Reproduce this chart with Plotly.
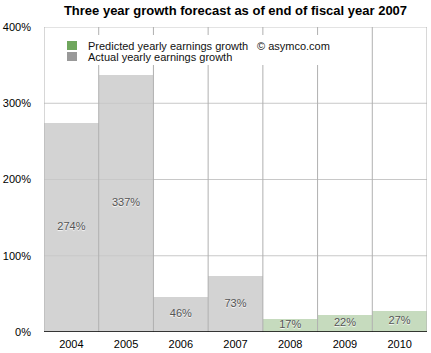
import plotly.graph_objects as go

years = ["2004", "2005", "2006", "2007", "2008", "2009", "2010"]
actual_years = ["2004", "2005", "2006", "2007"]
actual_values = [274, 337, 46, 73]
pred_years = ["2008", "2009", "2010"]
pred_values = [17, 22, 27]
y_ticks = [0, 100, 200, 300, 400]
title_text = "Three year growth forecast as of end of fiscal year 2007"
legend_pred = "Predicted yearly earnings growth"
legend_actual = "Actual yearly earnings growth"
credit = "© asymco.com"

FONT = "Liberation Sans, Arial, Helvetica, sans-serif"
W, H = 431, 353
L, R, T, B = 44, 4, 27, 21
PW, PH = W - L - R, H - T - B

def px(xp):
    return (xp - L) / PW

def py(yp):
    return (H - B - yp) / PH

fig = go.Figure()
fig.add_trace(go.Bar(x=actual_years, y=actual_values, marker=dict(color="#d3d3d3", line=dict(width=0)),
                     showlegend=False, hoverinfo="skip"))
fig.add_trace(go.Bar(x=pred_years, y=pred_values, marker=dict(color="#c6dbbe", line=dict(width=0)),
                     showlegend=False, hoverinfo="skip"))

all_years = actual_years + pred_years
all_vals = actual_values + pred_values
fig.add_trace(go.Scatter(x=all_years, y=[v / 2 for v in all_vals], mode="text",
                         text=[f"{v}%" for v in all_vals],
                         textfont=dict(family=FONT, size=11, color="#555555",
                                       shadow="0px 1px 1px #ffffff"),
                         showlegend=False, hoverinfo="skip"))

shapes = []
# horizontal gridlines (above bars)
for t in y_ticks[1:]:
    shapes.append(dict(type="line", xref="paper", yref="y", x0=0, x1=1, y0=t, y1=t,
                       line=dict(color="#c8c8c8", width=1), layer="above"))
# vertical gridlines at category boundaries
for i in range(len(years) + 1):
    shapes.append(dict(type="line", xref="x", yref="paper", x0=i - 0.5, x1=i - 0.5, y0=0, y1=1,
                       line=dict(color="#b0b0b0", width=1), layer="above"))
# legend background
shapes.append(dict(type="rect", xref="paper", yref="paper", x0=px(58), x1=px(338), y0=py(65), y1=py(35),
                   fillcolor="white", line=dict(width=0), layer="above"))
# legend swatches
shapes.append(dict(type="rect", xref="paper", yref="paper", x0=px(67), x1=px(77), y0=py(50), y1=py(41),
                   fillcolor="#6fa65d", line=dict(width=0), layer="above"))
shapes.append(dict(type="rect", xref="paper", yref="paper", x0=px(67), x1=px(77), y0=py(61), y1=py(52),
                   fillcolor="#999999", line=dict(width=0), layer="above"))
# bottom axis line
shapes.append(dict(type="line", xref="paper", yref="y", x0=0, x1=1, y0=0, y1=0,
                   line=dict(color="black", width=1.5), layer="above"))

annotations = [
    dict(text=legend_pred, xref="paper", yref="paper", x=px(86), y=py(45.5), xanchor="left", yanchor="middle",
         showarrow=False, font=dict(family=FONT, size=11, color="#111")),
    dict(text=legend_actual, xref="paper", yref="paper", x=px(86), y=py(56.5), xanchor="left", yanchor="middle",
         showarrow=False, font=dict(family=FONT, size=11, color="#111")),
    dict(text=credit, xref="paper", yref="paper", x=px(255), y=py(45.5), xanchor="left", yanchor="middle",
         showarrow=False, font=dict(family=FONT, size=11, color="#111")),
]

fig.update_layout(
    width=W, height=H,
    margin=dict(l=L, r=R, t=T, b=B, pad=0),
    paper_bgcolor="white", plot_bgcolor="white",
    barmode="overlay", bargap=0,
    title=dict(text=f"<b>{title_text}</b>", x=0.5 * (2 * L + PW) / W, xanchor="center",
               y=1 - 10 / H, yanchor="middle", font=dict(family=FONT, size=13, color="black")),
    font=dict(family=FONT, size=11, color="black"),
    shapes=shapes, annotations=annotations,
    xaxis=dict(type="category", categoryorder="array", categoryarray=years,
               range=[-0.5, len(years) - 0.5], showgrid=False, showline=False, ticks="",
               tickfont=dict(family=FONT, size=11, color="black"), ticklabelstandoff=4, fixedrange=True),
    yaxis=dict(range=[0, 400], tickvals=y_ticks, ticktext=[f"{t}%" for t in y_ticks],
               showgrid=False, zeroline=False, showline=False, ticks="",
               tickfont=dict(family=FONT, size=11, color="black"), ticklabelstandoff=12, fixedrange=True),
)

fig.write_html("out.html")
